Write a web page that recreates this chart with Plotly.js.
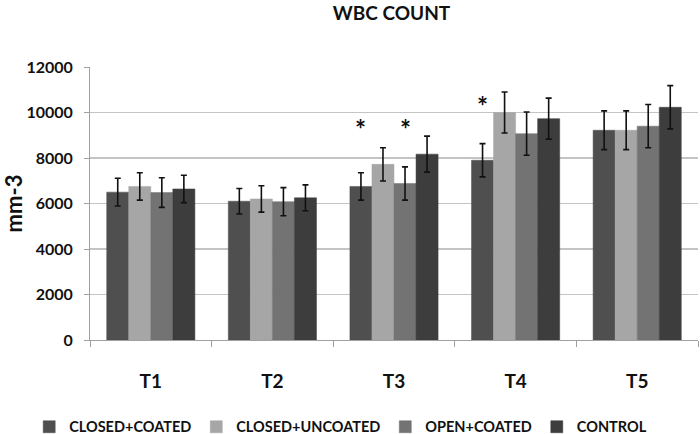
<!DOCTYPE html>
<html>
<head>
<meta charset="utf-8">
<script src="https://cdn.plot.ly/plotly-3.0.1.min.js"></script>
<style>html,body{margin:0;padding:0;background:#fff}#chart{width:700px;height:434px}</style>
</head>
<body>
<div id="chart"></div>
<script>
var categories = ["T1", "T2", "T3", "T4", "T5"];
var seriesNames = ["CLOSED+COATED", "CLOSED+UNCOATED", "OPEN+COATED", "CONTROL"];
var closedCoated = [6500, 6100, 6750, 7900, 9220];
var closedUncoated = [6750, 6200, 7720, 10000, 9220];
var openCoated = [6480, 6080, 6880, 9070, 9400];
var control = [6640, 6250, 8170, 9730, 10230];
var closedCoatedErr = [610, 560, 600, 730, 850];
var closedUncoatedErr = [600, 580, 730, 900, 850];
var openCoatedErr = [650, 620, 730, 950, 950];
var controlErr = [600, 570, 790, 900, 950];
var starCategories = ["T3", "T3", "T4"];
var starSeries = [0, 2, 0];
var starValues = [9550, 9550, 10550];
var yTicks = [0, 2000, 4000, 6000, 8000, 10000, 12000];

var colors = ["#4f4f4f", "#a6a6a6", "#737373", "#3d3d3d"];
var values = [closedCoated, closedUncoated, openCoated, control];
var errs = [closedCoatedErr, closedUncoatedErr, openCoatedErr, controlErr];

var margin = {l: 90, r: 2, t: 67, b: 94, autoexpand: false};
var bargap = 0.275;
var plotW = 700 - margin.l - margin.r;
var catW = plotW / categories.length;
var barW = catW * (1 - bargap) / seriesNames.length;
var FONT = "Lato, 'Open Sans', sans-serif";

var traces = seriesNames.map(function (name, i) {
  return {
    type: "bar",
    name: name,
    x: categories,
    y: values[i],
    marker: {color: colors[i], line: {color: colors[i], width: 0.5}},
    error_y: {type: "data", array: errs[i], visible: true, color: "#111", thickness: 1.6, width: 3}
  };
});

var annotations = starCategories.map(function (c, k) {
  return {
    x: c, y: starValues[k], xref: "x", yref: "y",
    text: "<b>*</b>", showarrow: false, yanchor: "middle", yshift: -6,
    xshift: (starSeries[k] - (seriesNames.length - 1) / 2) * barW,
    font: {family: FONT, size: 26, color: "#111"}
  };
});

var layout = {
  width: 700, height: 434,
  margin: margin,
  paper_bgcolor: "#fff", plot_bgcolor: "#fff",
  title: {text: "<b>WBC COUNT</b>", x: 0.496, xanchor: "center", xref: "paper",
          yref: "container", y: 0.97, yanchor: "middle",
          font: {family: FONT, size: 19, color: "#111"}},
  barmode: "group", bargap: bargap, bargroupgap: 0,
  showlegend: true,
  legend: {orientation: "h", xref: "paper", yref: "paper", x: -0.1, xanchor: "left",
           y: -0.318, yanchor: "middle",
           font: {family: FONT, size: 14.5, color: "#111", weight: "bold"},
           itemwidth: 30, tracegroupgap: 0},
  xaxis: {
    type: "category",
    showline: true, linecolor: "#a0a0a0", linewidth: 1,
    ticks: "outside", tickson: "boundaries", ticklen: 6, tickcolor: "#a0a0a0",
    tickfont: {family: FONT, size: 19, color: "#111", weight: "bold"},
    ticklabelstandoff: 24
  },
  yaxis: {
    range: [0, 12000], tickvals: yTicks, ticktext: yTicks.map(String),
    showline: true, linecolor: "#a0a0a0", linewidth: 1,
    ticks: "outside", ticklen: 5, tickcolor: "#a0a0a0",
    showgrid: true, gridcolor: "#c4c4c4", gridwidth: 1.2,
    zeroline: false,
    tickfont: {family: FONT, size: 16, color: "#111", weight: "bold"},
    ticklabelstandoff: 8,
    title: {text: "<b>mm-3</b>", standoff: 10, font: {family: FONT, size: 22, color: "#111"}}
  },
  annotations: annotations
};

Plotly.newPlot("chart", traces, layout, {displayModeBar: false, staticPlot: true});
</script>
</body>
</html>
